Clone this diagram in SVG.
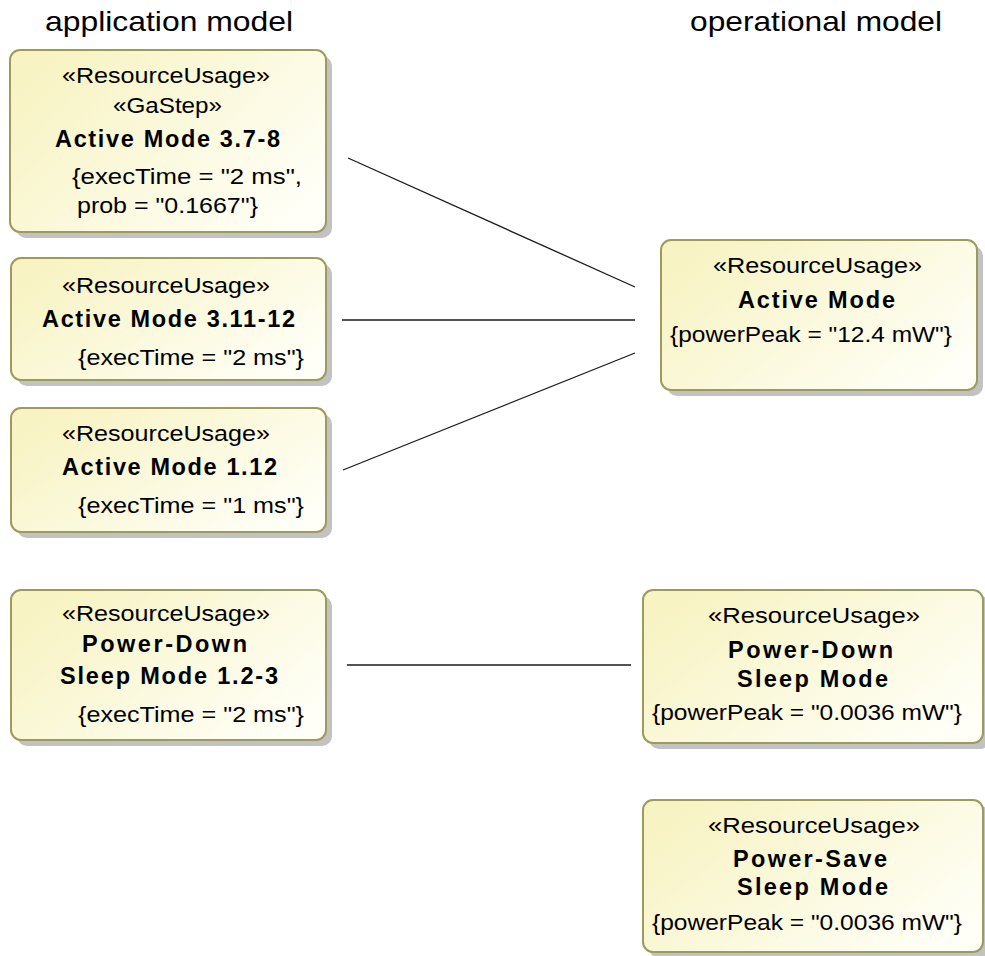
<svg xmlns="http://www.w3.org/2000/svg" width="985" height="956" viewBox="0 0 985 956">
  <style>
    .title { font-family: "Liberation Sans", Arial, sans-serif; font-size: 28px; fill: #000; }
    .st { font-family: "Liberation Sans", Arial, sans-serif; font-size: 22px; fill: #000; }
    .nm { font-family: "Liberation Sans", Arial, sans-serif; font-size: 23.5px; font-weight: bold; fill: #000; }
    .tv { font-family: "Liberation Sans", Arial, sans-serif; font-size: 22px; fill: #000; }
    .box { fill: url(#nodeFill); stroke: #9d9b5c; stroke-width: 2; }
    .shadow { fill: #c2c2c2; }
    .conn { stroke: #1a1a1a; stroke-width: 1.3; fill: none; }
  </style>
  <defs>
    <linearGradient id="nodeFill" x1="0" y1="0.2" x2="1" y2="0.8">
      <stop offset="0" stop-color="#f7f3c2"/>
      <stop offset="1" stop-color="#fffff8"/>
    </linearGradient>
  </defs>

  <rect width="985" height="956" fill="#ffffff"/>

  <!-- column headings -->
  <text class="title" x="45" y="31" textLength="248" lengthAdjust="spacingAndGlyphs">application model</text>
  <text class="title" x="690" y="31" textLength="252" lengthAdjust="spacingAndGlyphs">operational model</text>

  <!-- connectors -->
  <g id="connectors">
    <line class="conn" x1="348" y1="158" x2="635" y2="287"/>
    <line class="conn" x1="342" y1="320" x2="635" y2="320"/>
    <line class="conn" x1="343" y1="470" x2="635" y2="353"/>
    <line class="conn" x1="347" y1="665" x2="631" y2="665"/>
  </g>

  <!-- application model nodes -->
  <g id="am-3-7-8">
    <rect class="shadow" x="16" y="56" width="316" height="182" rx="10"/>
    <rect class="box" x="10" y="50" width="316" height="182" rx="10"/>
    <text class="st" x="62" y="83" textLength="208" lengthAdjust="spacingAndGlyphs">«ResourceUsage»</text>
    <text class="st" x="113" y="113" textLength="109" lengthAdjust="spacingAndGlyphs">«GaStep»</text>
    <text class="nm" x="55" y="147" textLength="225" lengthAdjust="spacing">Active Mode 3.7-8</text>
    <text class="tv" x="72" y="184" textLength="230" lengthAdjust="spacingAndGlyphs">{execTime = "2 ms",</text>
    <text class="tv" x="77" y="213" textLength="181" lengthAdjust="spacingAndGlyphs">prob = "0.1667"}</text>
  </g>

  <g id="am-3-11-12">
    <rect class="shadow" x="17" y="264" width="315" height="122" rx="10"/>
    <rect class="box" x="11" y="258" width="315" height="122" rx="10"/>
    <text class="st" x="62" y="293" textLength="208" lengthAdjust="spacingAndGlyphs">«ResourceUsage»</text>
    <text class="nm" x="42" y="327" textLength="253" lengthAdjust="spacing">Active Mode 3.11-12</text>
    <text class="tv" x="78" y="365" textLength="226" lengthAdjust="spacingAndGlyphs">{execTime = "2 ms"}</text>
  </g>

  <g id="am-1-12">
    <rect class="shadow" x="17" y="414" width="315" height="124" rx="10"/>
    <rect class="box" x="11" y="408" width="315" height="124" rx="10"/>
    <text class="st" x="62" y="441" textLength="208" lengthAdjust="spacingAndGlyphs">«ResourceUsage»</text>
    <text class="nm" x="62" y="475" textLength="215" lengthAdjust="spacing">Active Mode 1.12</text>
    <text class="tv" x="78" y="513" textLength="226" lengthAdjust="spacingAndGlyphs">{execTime = "1 ms"}</text>
  </g>

  <g id="pdsm-1-2-3">
    <rect class="shadow" x="17" y="596" width="315" height="150" rx="10"/>
    <rect class="box" x="11" y="590" width="315" height="150" rx="10"/>
    <text class="st" x="62" y="621" textLength="208" lengthAdjust="spacingAndGlyphs">«ResourceUsage»</text>
    <text class="nm" x="82" y="652" textLength="165" lengthAdjust="spacing">Power-Down</text>
    <text class="nm" x="60" y="684" textLength="218" lengthAdjust="spacing">Sleep Mode 1.2-3</text>
    <text class="tv" x="78" y="722" textLength="226" lengthAdjust="spacingAndGlyphs">{execTime = "2 ms"}</text>
  </g>

  <!-- operational model nodes -->
  <g id="op-active">
    <rect class="shadow" x="667" y="246" width="316" height="150" rx="10"/>
    <rect class="box" x="661" y="240" width="316" height="150" rx="10"/>
    <text class="st" x="713" y="273" textLength="209" lengthAdjust="spacingAndGlyphs">«ResourceUsage»</text>
    <text class="nm" x="738" y="308" textLength="157" lengthAdjust="spacing">Active Mode</text>
    <text class="tv" x="670" y="342" textLength="282" lengthAdjust="spacingAndGlyphs">{powerPeak = "12.4 mW"}</text>
  </g>

  <g id="op-power-down">
    <rect class="shadow" x="649" y="596" width="341" height="153" rx="10"/>
    <rect class="box" x="643" y="590" width="340" height="153" rx="10"/>
    <text class="st" x="708" y="623" textLength="212" lengthAdjust="spacingAndGlyphs">«ResourceUsage»</text>
    <text class="nm" x="728" y="658" textLength="165" lengthAdjust="spacing">Power-Down</text>
    <text class="nm" x="737" y="687" textLength="151" lengthAdjust="spacing">Sleep Mode</text>
    <text class="tv" x="652" y="720" textLength="310" lengthAdjust="spacingAndGlyphs">{powerPeak = "0.0036 mW"}</text>
  </g>

  <g id="op-power-save">
    <rect class="shadow" x="649" y="806" width="341" height="152" rx="10"/>
    <rect class="box" x="643" y="800" width="340" height="152" rx="10"/>
    <text class="st" x="708" y="833" textLength="212" lengthAdjust="spacingAndGlyphs">«ResourceUsage»</text>
    <text class="nm" x="733" y="867" textLength="154" lengthAdjust="spacing">Power-Save</text>
    <text class="nm" x="737" y="895" textLength="151" lengthAdjust="spacing">Sleep Mode</text>
    <text class="tv" x="652" y="930" textLength="310" lengthAdjust="spacingAndGlyphs">{powerPeak = "0.0036 mW"}</text>
  </g>
</svg>
